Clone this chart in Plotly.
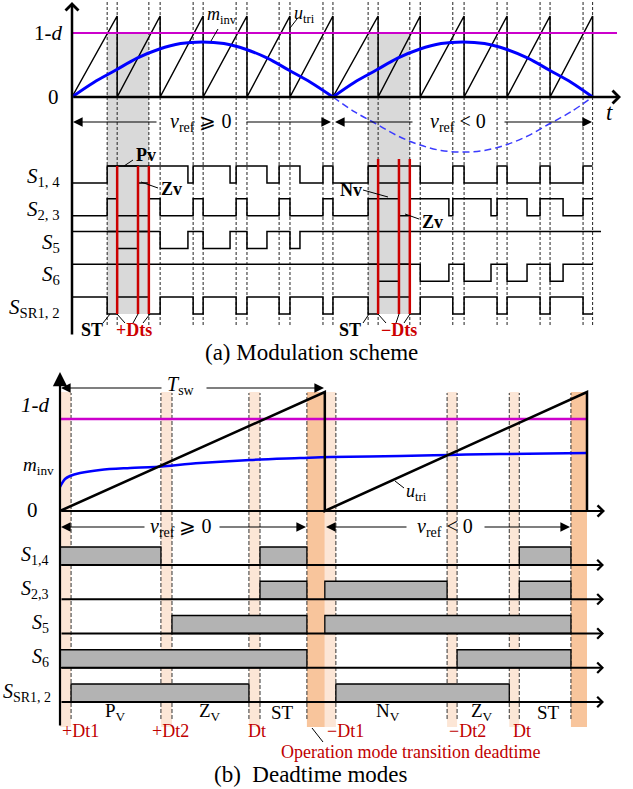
import plotly.graph_objects as go

W, H = 633, 789
SERIF = "Liberation Serif"
RED = "#c00000"

# ================= (a) Modulation scheme  (time in switching periods) =================
a_peaks = [1.04, 2.03, 3.02, 4.03, 5.02, 6.01, 7.05, 8.02, 9.03, 10.02, 11.01, 11.99]
a_st_start = [0.81, 1.77, 2.79, 3.78, 4.77, 5.78, 6.82, 7.78, 8.77, 9.79, 10.78, 11.77]
a_cross = [0.00, 1.52, 2.67, 3.64, 4.49, 5.25, 6.01, 7.53, 8.68, 9.65, 10.48, 11.31]
a_half = ["+", "+", "+", "+", "+", "+", "-", "-", "-", "-", "-", "-"]
a_one_minus_d = 0.79
a_minv_t1 = [0.0, 0.5, 1.0, 1.5, 2.0, 2.5, 3.0, 3.5, 4.0, 4.5, 5.0, 5.5, 6.01]
a_minv_v1 = [0.0, 0.18, 0.33, 0.48, 0.59, 0.66, 0.68, 0.66, 0.59, 0.48, 0.33, 0.18, 0.0]
a_minv_t2 = [6.01, 6.5, 7.0, 7.5, 8.0, 8.5, 9.0, 9.5, 10.0, 10.5, 11.0, 11.5, 11.99]
a_minv_v2 = [0.0, 0.18, 0.33, 0.48, 0.59, 0.66, 0.68, 0.66, 0.59, 0.48, 0.33, 0.18, 0.0]
a_gray = [(0.81, 1.77), (6.82, 7.78)]
a_gray_held_rows = [[0, 2], [0, 3]]      # rows whose "on" line stays drawn across each grey window
a_red = [1.04, 1.52, 1.77, 7.05, 7.53, 7.78]
a_row_labels = ["<i>S</i><sub>1, 4</sub>", "<i>S</i><sub>2, 3</sub>", "<i>S</i><sub>5</sub>",
                "<i>S</i><sub>6</sub>", "<i>S</i><sub>SR1, 2</sub>"]
# switch state per mode: P = positive active, N = negative active, Z = zero, S = shoot-through
a_states = [
    {"P": 1, "N": 0, "Z": 0, "S": 1},
    {"P": 0, "N": 1, "Z": 0, "S": 1},
    {"P": 0, "N": 1, "Z": 1, "S": 1},
    {"P": 1, "N": 0, "Z": 1, "S": 1},
    {"P": 1, "N": 1, "Z": 1, "S": 0},
]

# ================= (b) Deadtime modes  (time in switching periods) =================
b_saw_t = [0.0, 1.005, 1.005, 2.0, 2.0]
b_saw_v = [0.0, 1.0, 0.0, 1.0, 0.0]
b_one_minus_d = 0.773
b_minv_t = [0.0, 0.008, 0.019, 0.038, 0.076, 0.152, 0.266, 0.361, 0.531, 0.721, 0.911, 1.025, 1.290, 1.480, 1.670, 2.0]
b_minv_v = [0.202, 0.235, 0.269, 0.294, 0.319, 0.345, 0.361, 0.370, 0.403, 0.429, 0.445, 0.454, 0.462, 0.471, 0.479, 0.487]
b_dt_cols = [(0.0, 0.042), (0.383, 0.425), (0.717, 0.759), (0.937, 1.005),
             (1.005, 1.047), (1.469, 1.507), (1.705, 1.743), (1.939, 2.0)]
b_dt_strong = [False, False, False, True, False, False, False, True]
b_row_labels = ["<i>S</i><sub>1,4</sub>", "<i>S</i><sub>2,3</sub>", "<i>S</i><sub>5</sub>",
                "<i>S</i><sub>6</sub>", "<i>S</i><sub>SR1, 2</sub>"]
b_bars = [
    [(0.0, 0.383), (0.759, 0.937), (1.743, 1.939)],
    [(0.759, 0.937), (1.005, 1.469), (1.743, 1.939)],
    [(0.425, 0.937), (1.005, 1.939)],
    [(0.0, 0.937), (1.507, 1.939)],
    [(0.042, 0.717), (1.047, 1.705)],
]
b_modes = ["P<sub>V</sub>", "Z<sub>V</sub>", "ST", "N<sub>V</sub>", "Z<sub>V</sub>", "ST"]
b_mode_t = [0.209, 0.569, 0.846, 1.245, 1.602, 1.852]
b_dt_labels = ["+Dt1", "+Dt2", "Dt", "\u2212Dt1", "\u2212Dt2", "Dt"]
b_dt_label_t = [0.076, 0.418, 0.748, 1.085, 1.548, 1.753]

# ================= geometry (window-pixel mapping of the two panels) =================
A_X0, A_T = 72.0, 43.42      # panel a: t=0 pixel, pixels per period
A_Y0, A_U = 97.0, 81.0       # panel a: zero line pixel, pixels per unit
B_X0, B_T = 60.0, 263.5
B_Y0, B_U = 511.0, 119.0
SPLIT = 345.0

def ay_of(p):
    return (A_Y0 - p) / A_U

def by_of(p):
    return (B_Y0 - p) / B_U

def at_of(px):
    return (px - A_X0) / A_T

def bt_of(px):
    return (px - B_X0) / B_T

A_BASE = [ay_of(183 + 32.75 * r) for r in range(5)]
A_HGT = 17.0 / A_U
B_BASE = [by_of(565 + 34.25 * r) for r in range(5)]
B_HGT = 18.0 / B_U

fig = go.Figure()
shapes, ann = [], []

def PX(x):
    return x / W

def PY(y):
    return 1 - y / H

def text(x, y, s, size, color="black", xa="center", ya="middle"):
    ann.append(dict(x=PX(x), y=PY(y), xref="paper", yref="paper", text=s, showarrow=False,
                    font=dict(family=SERIF, size=size, color=color), xanchor=xa, yanchor=ya,
                    borderpad=0))

def seg(x0, y0, x1, y1, w=1.0, color="black"):
    shapes.append(dict(type="line", xref="paper", yref="paper", x0=PX(x0), y0=PY(y0),
                       x1=PX(x1), y1=PY(y1), line=dict(color=color, width=w)))

def arrow(x0, y0, x1, y1, w=1.5, head=2, size=1.2, color="black"):
    ann.append(dict(x=PX(x1), y=PY(y1), xref="paper", yref="paper", ax=x0 - x1, ay=y0 - y1,
                    axref="pixel", ayref="pixel", text="", showarrow=True, arrowhead=head,
                    arrowwidth=w, arrowsize=size, arrowcolor=color, standoff=0, startstandoff=0))

# ---------------- panel (a) ----------------
for g0, g1 in a_gray:
    shapes.append(dict(type="rect", xref="x", yref="y", x0=g0, x1=g1, y0=A_BASE[4], y1=a_one_minus_d,
                       fillcolor="#d9d9d9", line=dict(width=0), layer="below"))
for k in range(len(a_peaks)):
    for t in (a_st_start[k], a_peaks[k]):
        shapes.append(dict(type="line", xref="x", yref="y", x0=t, x1=t, y0=ay_of(325), y1=ay_of(1),
                           line=dict(color="#222", width=1, dash="3px,2px"), layer="below"))

saw_x, saw_y = [0.0], [0.0]
for p in a_peaks:
    saw_x += [p, p]
    saw_y += [1.0, 0.0]
fig.add_trace(go.Scatter(x=saw_x, y=saw_y, mode="lines", line=dict(color="black", width=1.5),
                         xaxis="x", yaxis="y", hoverinfo="skip"))
fig.add_trace(go.Scatter(x=[0, at_of(617)], y=[a_one_minus_d] * 2, mode="lines",
                         line=dict(color="#cc00cc", width=2.2), xaxis="x", yaxis="y"))
for tt, vv in ((a_minv_t1, a_minv_v1), (a_minv_t2, a_minv_v2)):
    fig.add_trace(go.Scatter(x=tt, y=vv, mode="lines", line=dict(color="#0000ff", width=3, shape="spline"),
                             xaxis="x", yaxis="y"))
fig.add_trace(go.Scatter(x=a_minv_t2, y=[-v for v in a_minv_v2], mode="lines",
                         line=dict(color="#3b3bff", width=1.5, dash="7px,4px", shape="spline"),
                         xaxis="x", yaxis="y"))

for r, st in enumerate(a_states):
    xs, ys = [], []
    for k in range(len(a_peaks)):
        s = 0.0 if k == 0 else a_peaks[k - 1]
        act = "P" if a_half[k] == "+" else "N"
        for t0, t1, m in ((s, a_cross[k], act), (a_cross[k], a_st_start[k], "Z"), (a_st_start[k], a_peaks[k], "S")):
            if t1 - t0 < 1e-6:
                continue
            lv = A_BASE[r] + st[m] * A_HGT
            xs += [t0, t1]
            ys += [lv, lv]
    if r == 2:
        xs.append(at_of(601))
        ys.append(ys[-1])
    fig.add_trace(go.Scatter(x=xs, y=ys, mode="lines", line=dict(color="black", width=1.5),
                             xaxis="x", yaxis="y"))
    text(61, 183 + 32.75 * r - 6, a_row_labels[r], 21, xa="right")

for (g0, g1), rows in zip(a_gray, a_gray_held_rows):
    for r in rows:
        lv = A_BASE[r] + A_HGT
        fig.add_trace(go.Scatter(x=[g0, g1], y=[lv, lv], mode="lines", line=dict(color="black", width=1.5),
                                 xaxis="x", yaxis="y"))

for i, t in enumerate(a_red):
    top = A_BASE[0] + A_HGT if i < 3 else ay_of(159)
    fig.add_trace(go.Scatter(x=[t, t], y=[A_BASE[4], top], mode="lines", line=dict(color="#cc0000", width=2.5),
                             xaxis="x", yaxis="y"))

# axes of (a)
arrow(72, 336, 72, 2, w=2.5, head=4, size=1.0)
arrow(72, 97, 621, 97, w=2.5, head=4, size=1.0)
text(48, 33, "1-<i>d</i>", 21)
text(53, 97, "0", 21)
text(609, 113, "<i>t</i>", 23)
text(222, 15, "<i>m</i><sub>inv</sub>", 18)
seg(218, 29, 211, 41)
text(304, 14, "<i>u</i><sub>tri</sub>", 18)
seg(297, 19, 290, 28)
text(200, 122, "<i>v</i><sub>ref</sub> \u2a7e 0", 20)
arrow(158, 122, 73, 122, w=1.2, head=2, size=1.6)
arrow(245, 122, 331, 122, w=1.2, head=2, size=1.6)
text(458, 122, "<i>v</i><sub>ref</sub> &lt; 0", 20)
arrow(414, 122, 335, 122, w=1.2, head=2, size=1.6)
arrow(503, 122, 592, 122, w=1.2, head=2, size=1.6)

text(146, 155, "<b>Pv</b>", 18)
seg(133, 160, 124, 166)
text(171, 189, "<b>Zv</b>", 18)
seg(158, 188, 141, 182)
text(351, 190, "<b>Nv</b>", 18)
seg(363, 190, 388, 197)
text(432, 222, "<b>Zv</b>", 18)
seg(419, 219, 405, 214)
text(92, 330, "<b>ST</b>", 18)
seg(103, 323, 110, 314)
text(134, 330, "<b>+Dts</b>", 18, color="#cc0000")
seg(117, 314, 125, 323)
seg(138, 314, 133, 323)
seg(150, 314, 143, 323)
text(350, 330, "<b>ST</b>", 18)
seg(363, 323, 369, 314)
text(399, 330, "<b>\u2212Dts</b>", 18, color="#cc0000")
seg(378, 314, 386, 323)
seg(399, 314, 396, 323)
seg(410, 314, 404, 323)
text(311, 352, "(a) Modulation scheme", 23)

# ---------------- panel (b) ----------------
for (c0, c1), strong in zip(b_dt_cols, b_dt_strong):
    shapes.append(dict(type="rect", xref="x2", yref="y2", x0=c0, x1=c1, y0=by_of(727), y1=1.0,
                       fillcolor="#f8c59c" if strong else "#fce6d6", line=dict(width=0), layer="below"))
edges = sorted({e for c in b_dt_cols for e in c} - {0.0, 1.005, 2.0})
for e in edges:
    shapes.append(dict(type="line", xref="x2", yref="y2", x0=e, x1=e, y0=by_of(719), y1=by_of(393),
                       line=dict(color="#333", width=1, dash="4px,2px"), layer="below"))
for r, bars in enumerate(b_bars):
    for s0, s1 in bars:
        shapes.append(dict(type="rect", xref="x2", yref="y2", x0=s0, x1=s1, y0=B_BASE[r], y1=B_BASE[r] + B_HGT,
                           fillcolor="#b3b3b3", line=dict(color="black", width=1.3), layer="below"))
    arrow(60, 565 + 34.25 * r, 604, 565 + 34.25 * r, w=2, head=4, size=1.0)
    text(52 if r == 4 else 50, 565 + 34.25 * r - 10, b_row_labels[r], 20, xa="right")

fig.add_trace(go.Scatter(x=[0, b_saw_t[-1]], y=[b_one_minus_d] * 2, mode="lines",
                         line=dict(color="#cc00cc", width=2.5), xaxis="x2", yaxis="y2"))
fig.add_trace(go.Scatter(x=b_minv_t, y=b_minv_v, mode="lines", line=dict(color="#0000ff", width=2.5, shape="spline"),
                         xaxis="x2", yaxis="y2"))
fig.add_trace(go.Scatter(x=b_saw_t, y=b_saw_v, mode="lines", line=dict(color="black", width=2.5),
                         xaxis="x2", yaxis="y2"))

arrow(60, 727, 60, 372, w=2.2, head=2, size=1.3)
arrow(60, 511, 605, 511, w=2.2, head=4, size=1.0)
text(35, 405, "<i>1-d</i>", 21)
text(38, 466, "<i>m</i><sub>inv</sub>", 19)
text(32, 510, "0", 21)
text(181, 385, "<i>T</i><sub>sw</sub>", 20)
arrow(163, 388, 61, 388, w=1.2, head=2, size=1.6)
arrow(205, 388, 324, 388, w=1.2, head=2, size=1.6)
text(416, 492, "<i>u</i><sub>tri</sub>", 18)
seg(395, 481, 404, 488)
text(180, 527, "<i>v</i><sub>ref</sub> \u2a7e 0", 20)
arrow(146, 527, 61, 527, w=1.2, head=2, size=1.6)
arrow(218, 527, 306, 527, w=1.2, head=2, size=1.6)
text(445, 527, "<i>v</i><sub>ref</sub> &lt; 0", 20)
arrow(408, 527, 326, 527, w=1.2, head=2, size=1.6)
arrow(483, 527, 570, 527, w=1.2, head=2, size=1.6)

for lab, t in zip(b_modes, b_mode_t):
    text(B_X0 + t * B_T, 712, lab, 19)
for lab, t in zip(b_dt_labels, b_dt_label_t):
    text(B_X0 + t * B_T, 731, lab, 18, color=RED)
text(410, 752, "Operation mode transition deadtime", 18, color=RED)
seg(312, 728, 323, 742)
text(311, 774, "(b)  Deadtime modes", 23)

fig.update_layout(
    width=W, height=H, margin=dict(l=0, r=0, t=0, b=0), showlegend=False,
    paper_bgcolor="white", plot_bgcolor="white",
    xaxis=dict(domain=[0, 1], range=[at_of(0), at_of(W)], visible=False, anchor="y"),
    yaxis=dict(domain=[PY(SPLIT), 1], range=[ay_of(SPLIT), ay_of(0)], visible=False, anchor="x"),
    xaxis2=dict(domain=[0, 1], range=[bt_of(0), bt_of(W)], visible=False, anchor="y2"),
    yaxis2=dict(domain=[0, PY(SPLIT)], range=[by_of(H), by_of(SPLIT)], visible=False, anchor="x2"),
    shapes=shapes, annotations=ann,
)
fig.write_html("out.html", config={"displayModeBar": False},
               post_script="document.body.style.margin='0px';")
